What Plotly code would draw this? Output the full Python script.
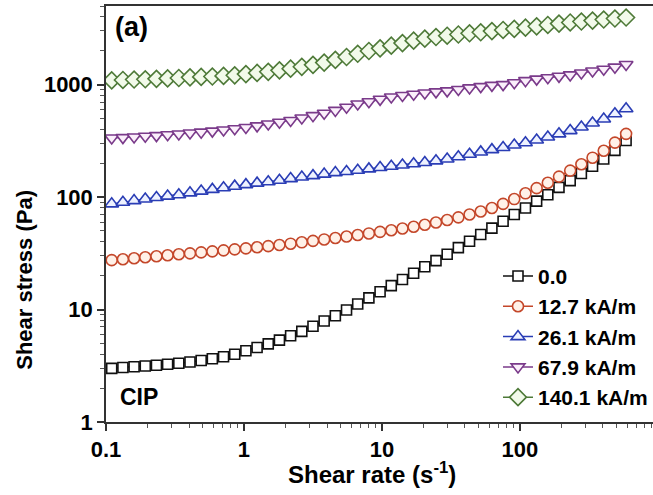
import plotly.graph_objects as go

shear_rate = [0.110, 0.1326, 0.1598, 0.1926, 0.2321, 0.2797, 0.3371, 0.4063, 0.4896, 0.5901,
              0.7112, 0.8571, 1.033, 1.245, 1.500, 1.808, 2.179, 2.626, 3.165, 3.814,
              4.597, 5.540, 6.677, 8.047, 9.698, 11.69, 14.09, 16.98, 20.46, 24.66,
              29.72, 35.82, 43.17, 52.03, 62.70, 75.57, 91.08, 109.8, 132.3, 159.4,
              192.1, 231.6, 279.1, 336.3, 405.4, 488.6, 588.8]

stress_0 = [3.00, 3.05, 3.10, 3.15, 3.20, 3.26, 3.33, 3.42, 3.52, 3.65,
            3.80, 4.00, 4.30, 4.60, 4.95, 5.35, 5.85, 6.40, 7.10, 7.90,
            8.80, 9.90, 11.2, 12.7, 14.4, 16.3, 18.5, 21.0, 24.0, 27.2,
            31.0, 35.5, 40.5, 46.5, 53.0, 61.0, 70.0, 80.0, 92.0, 105,
            122, 140, 162, 188, 218, 260, 318]
stress_12 = [27.5, 28.0, 28.6, 29.2, 29.8, 30.4, 31.0, 31.6, 32.2, 32.9,
             33.6, 34.3, 35.0, 35.8, 36.6, 37.5, 38.5, 39.6, 40.8, 42.0,
             43.3, 44.6, 46.0, 47.5, 49.0, 50.7, 52.5, 54.5, 56.8, 59.4,
             62.5, 66.0, 70.0, 74.5, 80.0, 87.0, 96.0, 108, 120, 134,
             152, 172, 196, 224, 258, 305, 365]
stress_26 = [87, 90, 93, 96, 99, 102, 105, 109, 113, 117,
             121, 125, 129, 133, 137, 141, 146, 151, 155, 160,
             165, 169, 173, 178, 183, 188, 193, 198, 203, 210,
             218, 228, 240, 252, 264, 276, 290, 304, 322, 342,
             365, 390, 420, 455, 495, 550, 610]
stress_67 = [335, 338, 342, 347, 352, 358, 364, 371, 378, 386,
             395, 405, 416, 430, 446, 463, 480, 505, 530, 557,
             590, 630, 672, 705, 740, 775, 800, 822, 842, 862,
             880, 905, 935, 960, 985, 1000, 1040, 1085, 1120, 1150,
             1185, 1220, 1270, 1320, 1370, 1430, 1510]
stress_140 = [1090, 1100, 1110, 1115, 1125, 1135, 1145, 1160, 1170, 1180,
              1195, 1210, 1240, 1270, 1300, 1340, 1385, 1440, 1500, 1570,
              1660, 1760, 1880, 1990, 2100, 2220, 2340, 2460, 2560, 2650,
              2720, 2790, 2860, 2920, 2990, 3060, 3130, 3210, 3300, 3390,
              3490, 3570, 3640, 3710, 3790, 3870, 3950]

series_names = ["0.0", "12.7 kA/m", "26.1 kA/m", "67.9 kA/m", "140.1 kA/m"]
series_values = [stress_0, stress_12, stress_26, stress_67, stress_140]

x_tickvals = [0.1, 1, 10, 100]
x_ticktext = ["0.1", "1", "10", "100"]
y_tickvals = [1, 10, 100, 1000]
y_ticktext = ["1", "10", "100", "1000"]

styles = [
    dict(color="#111111", fill="#ffffff", symbol="square", size=10),
    dict(color="#C4472A", fill="#FFF1E8", symbol="circle", size=11),
    dict(color="#2A3DB5", fill="#EEF2FF", symbol="triangle-up", size=12),
    dict(color="#7A3A8A", fill="#FBEFFB", symbol="triangle-down", size=12),
    dict(color="#4E7A38", fill="#F2FAEA", symbol="diamond", size=13),
]

FONT = "Liberation Sans, Arial, sans-serif"

fig = go.Figure()
for name, vals, st in zip(series_names, series_values, styles):
    fig.add_trace(go.Scatter(
        x=shear_rate, y=vals, name=name, mode="lines+markers",
        line=dict(color=st["color"], width=1.5),
        marker=dict(symbol=st["symbol"], size=st["size"], color=st["fill"],
                    line=dict(color=st["color"], width=1.6)),
    ))

axis_common = dict(
    type="log", showgrid=False, zeroline=False,
    showline=True, linecolor="#333333", linewidth=1.5,
    ticks="outside", ticklen=7, tickwidth=1.5, tickcolor="#333333",
    tickfont=dict(family=FONT, size=22, color="black", weight="bold"),
    minor=dict(ticks="outside", ticklen=4, tickwidth=1, tickcolor="#555555", dtick="D1", showgrid=False),
)

fig.update_xaxes(**axis_common, range=[-1, 2.965], tickvals=x_tickvals, ticktext=x_ticktext, mirror=True)
fig.update_yaxes(**axis_common, range=[0, 3.699], tickvals=y_tickvals, ticktext=y_ticktext, mirror=False)

fig.update_layout(
    width=653, height=495,
    margin=dict(l=106, r=0, t=6, b=73),
    paper_bgcolor="white", plot_bgcolor="white",
    showlegend=True,
    legend=dict(x=1.0, xanchor="right", y=0.01, yanchor="bottom",
                bgcolor="rgba(0,0,0,0)",
                font=dict(family=FONT, size=21, color="black", weight="bold"),
                itemwidth=30, tracegroupgap=0),
    annotations=[
        dict(text="<b>Shear rate (s<sup>-1</sup>)</b>", x=0.486, y=0, xref="paper", yref="paper",
             xanchor="center", yanchor="top", yshift=-34, showarrow=False,
             font=dict(family=FONT, size=24, color="black")),
        dict(text="<b>Shear stress (Pa)</b>", x=-0.148, y=0.342, xref="paper", yref="paper",
             xanchor="center", yanchor="middle", textangle=-90, showarrow=False,
             font=dict(family=FONT, size=22, color="black")),
        dict(text="<b>(a)</b>", x=0.012, y=0.99, xref="paper", yref="paper",
             xanchor="left", yanchor="top", showarrow=False,
             font=dict(family=FONT, size=27, color="black")),
        dict(text="<b>CIP</b>", x=0.022, y=0.025, xref="paper", yref="paper",
             xanchor="left", yanchor="bottom", showarrow=False,
             font=dict(family=FONT, size=23, color="black")),
    ],
)

fig.write_html("out.html")
